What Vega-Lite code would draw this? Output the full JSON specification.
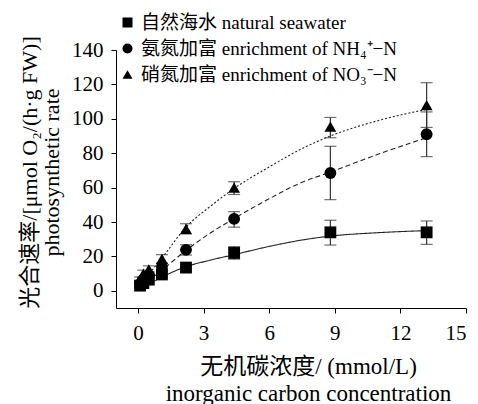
{
  "$schema": "https://vega.github.io/schema/vega-lite/v6.json",
  "autosize": {"type": "none"},
  "width": 350,
  "height": 258,
  "padding": {"left": 116, "top": 50, "right": 12, "bottom": 96},
  "background": "white",
  "config": {
    "view": {"stroke": null},
    "font": "Liberation Serif, Noto Sans CJK SC",
    "axis": {"domainColor": "#000", "tickColor": "#000", "labelColor": "#000", "titleColor": "#000", "grid": false, "labelFont": "Liberation Serif", "titleFont": "Liberation Serif, Noto Sans CJK SC", "labelFontSize": 21, "titleFontWeight": "normal", "tickSize": 5, "domainWidth": 1, "labelOverlap": false, "labelBound": false}
  },
  "datasets": {
    "pts": [
      {"x": 0.1, "y": 3, "lo": 2, "hi": 4, "s": "自然海水 natural seawater"},
      {"x": 0.25, "y": 4.5, "lo": 3.5, "hi": 5.5, "s": "自然海水 natural seawater"},
      {"x": 0.5, "y": 6.5, "lo": 5.3, "hi": 7.7, "s": "自然海水 natural seawater"},
      {"x": 1.1, "y": 9.5, "lo": 8, "hi": 11, "s": "自然海水 natural seawater"},
      {"x": 2.2, "y": 13.5, "lo": 12, "hi": 15, "s": "自然海水 natural seawater"},
      {"x": 4.4, "y": 22, "lo": 18.4, "hi": 25.7, "s": "自然海水 natural seawater"},
      {"x": 8.8, "y": 34, "lo": 26.6, "hi": 41, "s": "自然海水 natural seawater"},
      {"x": 13.2, "y": 34, "lo": 27, "hi": 40.6, "s": "自然海水 natural seawater"},
      {"x": 0.1, "y": 4, "lo": 2.5, "hi": 5.5, "s": "氨氮加富 enrichment of NH₄⁺−N"},
      {"x": 0.25, "y": 6.5, "lo": 5, "hi": 8, "s": "氨氮加富 enrichment of NH₄⁺−N"},
      {"x": 0.5, "y": 9, "lo": 7, "hi": 11, "s": "氨氮加富 enrichment of NH₄⁺−N"},
      {"x": 1.1, "y": 14, "lo": 12, "hi": 16, "s": "氨氮加富 enrichment of NH₄⁺−N"},
      {"x": 2.2, "y": 23.8, "lo": 20.8, "hi": 26.8, "s": "氨氮加富 enrichment of NH₄⁺−N"},
      {"x": 4.4, "y": 41.8, "lo": 37, "hi": 46, "s": "氨氮加富 enrichment of NH₄⁺−N"},
      {"x": 8.8, "y": 68.5, "lo": 53, "hi": 84, "s": "氨氮加富 enrichment of NH₄⁺−N"},
      {"x": 13.2, "y": 91, "lo": 78, "hi": 104, "s": "氨氮加富 enrichment of NH₄⁺−N"},
      {"x": 0.1, "y": 6.5, "lo": 5, "hi": 8, "s": "硝氮加富 enrichment of NO₃⁻−N"},
      {"x": 0.25, "y": 10, "lo": 8, "hi": 12, "s": "硝氮加富 enrichment of NO₃⁻−N"},
      {"x": 0.5, "y": 12.5, "lo": 10.5, "hi": 14.5, "s": "硝氮加富 enrichment of NO₃⁻−N"},
      {"x": 1.1, "y": 18.5, "lo": 16, "hi": 21, "s": "硝氮加富 enrichment of NO₃⁻−N"},
      {"x": 2.2, "y": 36, "lo": 33, "hi": 39, "s": "硝氮加富 enrichment of NO₃⁻−N"},
      {"x": 4.4, "y": 60, "lo": 56, "hi": 63.4, "s": "硝氮加富 enrichment of NO₃⁻−N"},
      {"x": 8.8, "y": 95.5, "lo": 89, "hi": 100.8, "s": "硝氮加富 enrichment of NO₃⁻−N"},
      {"x": 13.2, "y": 108, "lo": 95, "hi": 121, "s": "硝氮加富 enrichment of NO₃⁻−N"}
    ],
    "fit": [
      {"x": 0.1, "y": 1, "s": "a"}, {"x": 0.5, "y": 4, "s": "a"}, {"x": 1.1, "y": 8, "s": "a"}, {"x": 2.2, "y": 14, "s": "a"}, {"x": 3.3, "y": 17.8, "s": "a"}, {"x": 4.4, "y": 21, "s": "a"}, {"x": 6, "y": 25.8, "s": "a"}, {"x": 7.4, "y": 29.3, "s": "a"}, {"x": 8.8, "y": 31.8, "s": "a"}, {"x": 11, "y": 33.8, "s": "a"}, {"x": 13.2, "y": 35, "s": "a"},
      {"x": 0.1, "y": 2, "s": "b"}, {"x": 0.5, "y": 6, "s": "b"}, {"x": 1.1, "y": 12, "s": "b"}, {"x": 2.2, "y": 23.5, "s": "b"}, {"x": 3.3, "y": 33.5, "s": "b"}, {"x": 4.4, "y": 42, "s": "b"}, {"x": 6, "y": 53.5, "s": "b"}, {"x": 7.4, "y": 62.5, "s": "b"}, {"x": 8.8, "y": 69, "s": "b"}, {"x": 11, "y": 79.5, "s": "b"}, {"x": 13.2, "y": 89, "s": "b"},
      {"x": 0.1, "y": 2.5, "s": "c"}, {"x": 0.5, "y": 9.5, "s": "c"}, {"x": 1.1, "y": 19, "s": "c"}, {"x": 2.2, "y": 37, "s": "c"}, {"x": 3.3, "y": 49, "s": "c"}, {"x": 4.4, "y": 59.5, "s": "c"}, {"x": 6, "y": 72, "s": "c"}, {"x": 7.4, "y": 82, "s": "c"}, {"x": 8.8, "y": 90, "s": "c"}, {"x": 11, "y": 99, "s": "c"}, {"x": 13.2, "y": 105.5, "s": "c"}
    ]
  },
  "encoding": {
    "x": {"field": "x", "type": "quantitative", "scale": {"domain": [-1, 15], "nice": false, "zero": false},
      "axis": {"values": [0, 3, 6, 9, 12, 15], "title": ["无机碳浓度/ (mmol/L)", "inorganic carbon concentration"], "titleFontSize": 23, "titleLineHeight": 27, "titleX": 192, "titleAlign": "center", "titlePadding": 12, "labelPadding": 9}},
    "y": {"field": "y", "type": "quantitative", "scale": {"domain": [-10, 140], "nice": false, "zero": false},
      "axis": {"values": [0, 20, 40, 60, 80, 100, 120, 140], "tickCount": 8, "labelOverlap": false, "title": ["光合速率/[μmol O₂/(h·g FW)]", "photosynthetic rate"], "titleFontSize": 22, "titleLineHeight": 22, "titleY": 122, "titleAlign": "center", "titlePadding": 8, "labelPadding": 8}}
  },
  "layer": [
    {
      "data": {"name": "fit"},
      "mark": {"type": "line", "color": "#222", "strokeWidth": 1.1, "interpolate": "monotone"},
      "encoding": {
        "detail": {"field": "s"},
        "strokeDash": {"field": "s", "type": "nominal", "scale": {"domain": ["a", "b", "c"], "range": [[1, 0], [5, 3], [2, 2]]}, "legend": null}
      }
    },
    {
      "data": {"name": "pts"},
      "mark": {"type": "rule", "color": "#333", "strokeWidth": 1.2},
      "encoding": {
        "y": {"field": "lo", "type": "quantitative"},
        "y2": {"field": "hi"}
      }
    },
    {
      "data": {"name": "pts"},
      "mark": {"type": "tick", "orient": "horizontal", "color": "#333", "size": 12, "thickness": 1.2},
      "encoding": {
        "y": {"field": "lo", "type": "quantitative"}
      }
    },
    {
      "data": {"name": "pts"},
      "mark": {"type": "tick", "orient": "horizontal", "color": "#333", "size": 12, "thickness": 1.2},
      "encoding": {
        "y": {"field": "hi", "type": "quantitative"}
      }
    },
    {
      "data": {"name": "pts"},
      "mark": {"type": "point", "filled": true, "color": "#000", "opacity": 1, "size": 140},
      "encoding": {
        "shape": {"field": "s", "type": "nominal",
          "scale": {"domain": ["自然海水 natural seawater", "氨氮加富 enrichment of NH₄⁺−N", "硝氮加富 enrichment of NO₃⁻−N"], "range": ["square", "circle", "triangle-up"]},
          "legend": {"title": null, "orient": "none", "legendX": 2, "legendY": -37, "labelFont": "Liberation Serif, Noto Sans CJK SC", "labelFontSize": 19, "labelColor": "#000", "symbolFillColor": "#000", "symbolStrokeColor": "#000", "symbolSize": 100, "rowPadding": 6, "labelOffset": 4, "labelLimit": 400, "padding": 0}}
      }
    }
  ]
}
